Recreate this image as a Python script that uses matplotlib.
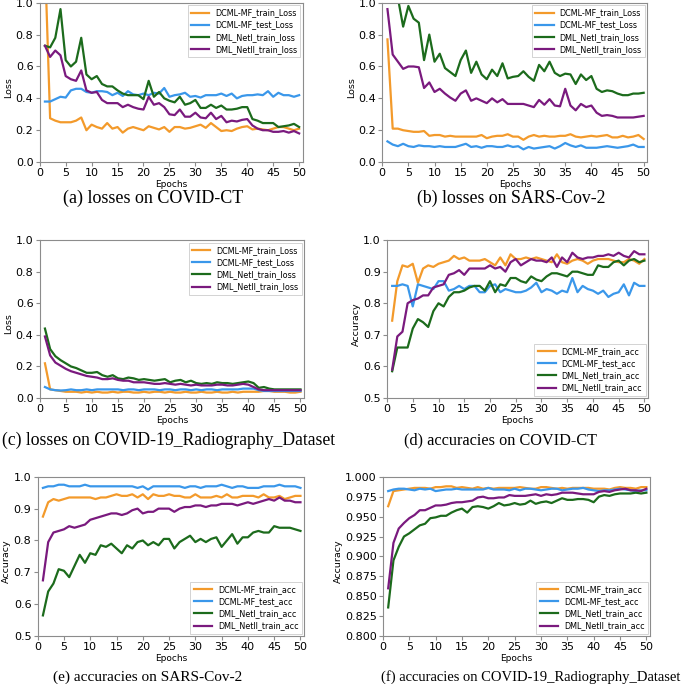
import numpy as np
import matplotlib
matplotlib.use('Agg')
import matplotlib.pyplot as plt

# Epoch axis shared by all panels
epochs = list(range(1, 51))

# Series names
loss_names = ['DCML-MF_train_Loss', 'DCML-MF_test_Loss', 'DML_NetI_train_loss', 'DML_NetII_train_loss']
acc_names = ['DCML-MF_train_acc', 'DCML-MF_test_acc', 'DML_NetI_train_acc', 'DML_NetII_train_acc']

# (a) losses on COVID-CT
a_mf_train = [1.28, 0.275, 0.26, 0.25, 0.25, 0.25, 0.26, 0.28, 0.20, 0.235,
              0.22, 0.21, 0.245, 0.21, 0.22, 0.185, 0.21, 0.22, 0.21, 0.20,
              0.225, 0.215, 0.205, 0.22, 0.19, 0.22, 0.22, 0.21, 0.215, 0.225,
              0.235, 0.215, 0.245, 0.22, 0.195, 0.20, 0.195, 0.21, 0.22, 0.225,
              0.205, 0.21, 0.205, 0.20, 0.21, 0.22, 0.22, 0.21, 0.20, 0.21]
a_mf_test = [0.38, 0.38, 0.395, 0.41, 0.405, 0.45, 0.46, 0.46, 0.44, 0.435,
             0.445, 0.445, 0.44, 0.42, 0.435, 0.415, 0.445, 0.425, 0.42, 0.43,
             0.42, 0.435, 0.43, 0.465, 0.41, 0.42, 0.425, 0.435, 0.41, 0.415,
             0.405, 0.42, 0.42, 0.42, 0.43, 0.415, 0.43, 0.40, 0.415, 0.42,
             0.42, 0.425, 0.42, 0.445, 0.41, 0.435, 0.42, 0.42, 0.41, 0.42]
a_net1 = [0.73, 0.72, 0.78, 0.96, 0.64, 0.60, 0.63, 0.78, 0.55, 0.52,
          0.54, 0.49, 0.475, 0.475, 0.45, 0.43, 0.42, 0.42, 0.42, 0.395,
          0.51, 0.41, 0.44, 0.40, 0.385, 0.375, 0.41, 0.36, 0.37, 0.39,
          0.34, 0.34, 0.36, 0.34, 0.355, 0.33, 0.33, 0.335, 0.345, 0.345,
          0.27, 0.26, 0.245, 0.245, 0.245, 0.22, 0.225, 0.23, 0.24, 0.22]
a_net2 = [0.73, 0.66, 0.70, 0.67, 0.54, 0.52, 0.51, 0.575, 0.45, 0.435,
          0.44, 0.39, 0.37, 0.37, 0.37, 0.345, 0.36, 0.345, 0.335, 0.33,
          0.41, 0.36, 0.37, 0.345, 0.30, 0.295, 0.33, 0.285, 0.285, 0.31,
          0.28, 0.275, 0.31, 0.27, 0.29, 0.25, 0.26, 0.255, 0.265, 0.27,
          0.23, 0.21, 0.20, 0.20, 0.19, 0.19, 0.195, 0.185, 0.195, 0.18]

# (b) losses on SARS-Cov-2
b_mf_train = [0.77, 0.21, 0.21, 0.20, 0.195, 0.19, 0.19, 0.195, 0.165, 0.17,
              0.17, 0.16, 0.165, 0.16, 0.16, 0.16, 0.16, 0.16, 0.17, 0.15,
              0.16, 0.165, 0.165, 0.175, 0.16, 0.16, 0.14, 0.16, 0.17, 0.16,
              0.165, 0.16, 0.16, 0.165, 0.165, 0.175, 0.16, 0.155, 0.16, 0.165,
              0.16, 0.165, 0.17, 0.155, 0.155, 0.165, 0.155, 0.16, 0.17, 0.145]
b_mf_test = [0.13, 0.11, 0.10, 0.115, 0.10, 0.095, 0.105, 0.10, 0.10, 0.095,
             0.10, 0.095, 0.095, 0.095, 0.105, 0.115, 0.095, 0.10, 0.09, 0.10,
             0.10, 0.095, 0.095, 0.105, 0.095, 0.10, 0.08, 0.095, 0.085, 0.09,
             0.095, 0.10, 0.085, 0.10, 0.12, 0.105, 0.095, 0.105, 0.09, 0.09,
             0.09, 0.095, 0.10, 0.095, 0.09, 0.095, 0.10, 0.11, 0.095, 0.095]
b_net1 = [1.25, 1.12, 1.03, 0.85, 0.98, 0.90, 0.875, 0.64, 0.80, 0.63,
          0.68, 0.59, 0.565, 0.54, 0.64, 0.70, 0.56, 0.63, 0.55, 0.52,
          0.58, 0.54, 0.62, 0.525, 0.535, 0.54, 0.57, 0.535, 0.51, 0.61,
          0.57, 0.63, 0.56, 0.54, 0.555, 0.55, 0.49, 0.55, 0.515, 0.54,
          0.46, 0.44, 0.45, 0.445, 0.43, 0.42, 0.42, 0.43, 0.43, 0.435]
b_net2 = [0.96, 0.675, 0.63, 0.585, 0.60, 0.60, 0.595, 0.465, 0.50, 0.44,
          0.46, 0.43, 0.405, 0.385, 0.43, 0.45, 0.385, 0.40, 0.385, 0.37,
          0.40, 0.375, 0.395, 0.365, 0.365, 0.365, 0.365, 0.355, 0.345, 0.39,
          0.36, 0.395, 0.355, 0.35, 0.46, 0.355, 0.325, 0.365, 0.345, 0.355,
          0.31, 0.29, 0.295, 0.29, 0.28, 0.28, 0.28, 0.28, 0.285, 0.29]

# (c) losses on COVID-19_Radiography_Dataset
c_mf_train = [0.22, 0.055, 0.05, 0.045, 0.04, 0.04, 0.04, 0.035, 0.04, 0.035,
              0.04, 0.035, 0.035, 0.04, 0.035, 0.04, 0.04, 0.035, 0.035, 0.04,
              0.035, 0.04, 0.04, 0.035, 0.04, 0.035, 0.035, 0.04, 0.035, 0.035,
              0.04, 0.035, 0.035, 0.04, 0.035, 0.035, 0.04, 0.035, 0.04, 0.04,
              0.04, 0.04, 0.045, 0.045, 0.04, 0.04, 0.04, 0.035, 0.035, 0.04]
c_mf_test = [0.07, 0.055, 0.05, 0.048, 0.05, 0.055, 0.05, 0.05, 0.055, 0.05,
             0.055, 0.055, 0.055, 0.055, 0.055, 0.05, 0.055, 0.055, 0.05, 0.055,
             0.055, 0.055, 0.05, 0.055, 0.055, 0.05, 0.055, 0.055, 0.05, 0.055,
             0.05, 0.055, 0.055, 0.05, 0.055, 0.055, 0.055, 0.055, 0.06, 0.06,
             0.06, 0.05, 0.045, 0.045, 0.045, 0.045, 0.045, 0.045, 0.045, 0.045]
c_net1 = [0.44, 0.31, 0.265, 0.24, 0.22, 0.20, 0.19, 0.175, 0.16, 0.16,
          0.165, 0.145, 0.135, 0.145, 0.125, 0.12, 0.13, 0.125, 0.115, 0.12,
          0.115, 0.11, 0.115, 0.12, 0.10, 0.11, 0.115, 0.10, 0.11, 0.095,
          0.09, 0.095, 0.09, 0.10, 0.095, 0.095, 0.09, 0.095, 0.10, 0.105,
          0.095, 0.065, 0.07, 0.06, 0.055, 0.055, 0.055, 0.055, 0.055, 0.055]
c_net2 = [0.39, 0.27, 0.225, 0.205, 0.185, 0.17, 0.16, 0.15, 0.14, 0.135,
          0.13, 0.12, 0.12, 0.125, 0.115, 0.11, 0.11, 0.10, 0.10, 0.10,
          0.095, 0.09, 0.09, 0.095, 0.09, 0.085, 0.09, 0.085, 0.08, 0.085,
          0.08, 0.08, 0.08, 0.085, 0.085, 0.08, 0.08, 0.085, 0.09, 0.085,
          0.07, 0.055, 0.05, 0.05, 0.05, 0.05, 0.05, 0.05, 0.05, 0.05]

# (d) accuracies on COVID-CT
d_mf_train = [0.745, 0.87, 0.92, 0.915, 0.925, 0.865, 0.91, 0.92, 0.915, 0.925,
              0.93, 0.935, 0.95, 0.94, 0.945, 0.935, 0.935, 0.935, 0.94, 0.93,
              0.92, 0.945, 0.92, 0.955, 0.94, 0.94, 0.945, 0.94, 0.945, 0.94,
              0.935, 0.93, 0.955, 0.93, 0.925, 0.935, 0.94, 0.935, 0.925, 0.935,
              0.94, 0.94, 0.94, 0.935, 0.93, 0.93, 0.94, 0.935, 0.925, 0.94]
d_mf_test = [0.855, 0.855, 0.86, 0.855, 0.79, 0.86, 0.855, 0.85, 0.845, 0.87,
             0.87, 0.84, 0.845, 0.855, 0.845, 0.855, 0.855, 0.835, 0.835, 0.855,
             0.86, 0.835, 0.845, 0.84, 0.835, 0.835, 0.84, 0.85, 0.865, 0.835,
             0.845, 0.84, 0.83, 0.84, 0.835, 0.88, 0.835, 0.855, 0.845, 0.84,
             0.83, 0.84, 0.82, 0.83, 0.835, 0.86, 0.825, 0.865, 0.855, 0.855]
d_net1 = [0.585, 0.66, 0.66, 0.66, 0.72, 0.75, 0.74, 0.725, 0.775, 0.80,
          0.79, 0.82, 0.835, 0.835, 0.84, 0.85, 0.855, 0.855, 0.84, 0.87,
          0.835, 0.86, 0.855, 0.88, 0.88, 0.87, 0.865, 0.885, 0.875, 0.87,
          0.885, 0.895, 0.895, 0.89, 0.885, 0.90, 0.90, 0.895, 0.89, 0.89,
          0.92, 0.915, 0.915, 0.93, 0.935, 0.92, 0.935, 0.94, 0.93, 0.935]
d_net2 = [0.59, 0.695, 0.71, 0.80, 0.81, 0.815, 0.825, 0.825, 0.85, 0.855,
          0.86, 0.89, 0.895, 0.905, 0.89, 0.91, 0.91, 0.91, 0.91, 0.92,
          0.91, 0.915, 0.90, 0.93, 0.94, 0.92, 0.93, 0.94, 0.935, 0.935,
          0.93, 0.945, 0.915, 0.945, 0.93, 0.96, 0.945, 0.94, 0.945, 0.945,
          0.95, 0.95, 0.955, 0.95, 0.96, 0.95, 0.945, 0.965, 0.955, 0.955]

# (e) accuracies on SARS-Cov-2
e_mf_train = [0.875, 0.92, 0.93, 0.925, 0.93, 0.935, 0.935, 0.935, 0.935, 0.935,
              0.93, 0.935, 0.935, 0.94, 0.945, 0.94, 0.94, 0.945, 0.935, 0.945,
              0.93, 0.945, 0.94, 0.94, 0.945, 0.94, 0.94, 0.935, 0.935, 0.945,
              0.935, 0.935, 0.935, 0.94, 0.935, 0.945, 0.935, 0.935, 0.94, 0.94,
              0.94, 0.935, 0.945, 0.935, 0.935, 0.94, 0.93, 0.935, 0.94, 0.94]
e_mf_test = [0.965, 0.97, 0.97, 0.975, 0.975, 0.97, 0.97, 0.97, 0.975, 0.97,
             0.97, 0.97, 0.97, 0.97, 0.97, 0.97, 0.97, 0.97, 0.965, 0.97,
             0.96, 0.97, 0.97, 0.97, 0.97, 0.97, 0.97, 0.965, 0.97, 0.97,
             0.965, 0.97, 0.97, 0.97, 0.975, 0.97, 0.965, 0.97, 0.97, 0.965,
             0.965, 0.965, 0.97, 0.97, 0.97, 0.975, 0.97, 0.97, 0.97, 0.965]
e_net1 = [0.565, 0.64, 0.665, 0.71, 0.705, 0.685, 0.72, 0.755, 0.73, 0.76,
          0.755, 0.785, 0.78, 0.79, 0.775, 0.76, 0.785, 0.775, 0.795, 0.80,
          0.785, 0.795, 0.785, 0.805, 0.805, 0.775, 0.795, 0.805, 0.815, 0.795,
          0.805, 0.795, 0.805, 0.81, 0.78, 0.80, 0.82, 0.79, 0.81, 0.81,
          0.825, 0.83, 0.825, 0.825, 0.845, 0.84, 0.84, 0.84, 0.835, 0.83]
e_net2 = [0.675, 0.795, 0.825, 0.83, 0.835, 0.845, 0.84, 0.845, 0.85, 0.865,
          0.87, 0.875, 0.88, 0.885, 0.885, 0.88, 0.885, 0.895, 0.90, 0.885,
          0.89, 0.89, 0.90, 0.90, 0.90, 0.89, 0.90, 0.905, 0.905, 0.91,
          0.91, 0.905, 0.91, 0.91, 0.915, 0.915, 0.915, 0.91, 0.915, 0.92,
          0.915, 0.92, 0.925, 0.93, 0.925, 0.935, 0.925, 0.925, 0.92, 0.92]

# (f) accuracies on COVID-19_Radiography_Dataset
f_mf_train = [0.963, 0.982, 0.983, 0.984, 0.985, 0.986, 0.986, 0.986, 0.985, 0.987,
              0.987, 0.988, 0.988, 0.986, 0.987, 0.986, 0.985, 0.987, 0.985, 0.986,
              0.985, 0.986, 0.986, 0.986, 0.986, 0.987, 0.986, 0.985, 0.985, 0.987,
              0.987, 0.986, 0.985, 0.986, 0.985, 0.986, 0.986, 0.986, 0.986, 0.985,
              0.985, 0.985, 0.984, 0.986, 0.987, 0.986, 0.986, 0.985, 0.987, 0.987]
f_mf_test = [0.982, 0.984, 0.985, 0.985, 0.984, 0.983, 0.985, 0.984, 0.985, 0.982,
             0.983, 0.984, 0.984, 0.985, 0.984, 0.984, 0.984, 0.984, 0.984, 0.986,
             0.984, 0.984, 0.984, 0.983, 0.985, 0.983, 0.985, 0.985, 0.984, 0.983,
             0.984, 0.985, 0.985, 0.983, 0.984, 0.985, 0.985, 0.986, 0.984, 0.983,
             0.982, 0.983, 0.983, 0.984, 0.985, 0.984, 0.983, 0.982, 0.983, 0.983]
f_net1 = [0.836, 0.895, 0.912, 0.925, 0.929, 0.934, 0.939, 0.941, 0.948, 0.949,
          0.951, 0.951, 0.955, 0.958, 0.960, 0.955, 0.962, 0.963, 0.962, 0.960,
          0.963, 0.967, 0.964, 0.965, 0.967, 0.965, 0.966, 0.970, 0.966, 0.968,
          0.969, 0.967, 0.970, 0.973, 0.971, 0.971, 0.972, 0.972, 0.971, 0.968,
          0.975, 0.977, 0.976, 0.978, 0.979, 0.979, 0.979, 0.980, 0.979, 0.980]
f_net2 = [0.860, 0.917, 0.935, 0.942, 0.948, 0.952, 0.958, 0.958, 0.961, 0.964,
          0.964, 0.965, 0.967, 0.968, 0.968, 0.969, 0.970, 0.974, 0.975, 0.973,
          0.973, 0.974, 0.974, 0.977, 0.976, 0.976, 0.976, 0.977, 0.978, 0.976,
          0.978, 0.977, 0.978, 0.980, 0.980, 0.980, 0.979, 0.978, 0.978, 0.978,
          0.981, 0.982, 0.981, 0.983, 0.984, 0.985, 0.983, 0.983, 0.982, 0.985]

captions = ['(a) losses on COVID-CT', '(b) losses on SARS-Cov-2',
            '(c) losses on COVID-19_Radiography_Dataset', '(d) accuracies on COVID-CT',
            '(e) accuracies on SARS-Cov-2', '(f) accuracies on COVID-19_Radiography_Dataset']

colors = ['#f39a2b', '#3a97ea', '#1c6b1c', '#7a1a7e']
edge_gray = '#8c8c8c'

fig = plt.figure(figsize=(6.85, 6.84), dpi=100)


def panel(rect, series, names, ylim, yticks, ylabel, legend_loc, yfmt, label_x):
    ax = fig.add_axes(rect)
    for vals, name, col in zip(series, names, colors):
        assert len(vals) == 50, name
        ax.plot(epochs, vals, color=col, lw=1.6, label=name)
    ax.set_xlim(0, 50.7)
    ax.set_ylim(*ylim)
    ax.set_xticks(range(0, 51, 5))
    ax.set_yticks(yticks)
    ax.set_yticklabels([yfmt.format(v) for v in yticks])
    ax.tick_params(axis='both', labelsize=8, pad=1.5, length=3, color=edge_gray)
    for s in ax.spines.values():
        s.set_color(edge_gray)
        s.set_linewidth(0.8)
    ax.set_xlabel('Epochs', fontsize=6.5, labelpad=1)
    ax.set_ylabel(ylabel, fontsize=6.8)
    # y label placed by hand, just left of the tick labels
    ax.yaxis.set_label_coords(label_x, 0.47)
    leg = ax.legend(loc=legend_loc, fontsize=5.8, handlelength=2.25, handletextpad=0.75,
                    labelspacing=0.4, borderpad=0.4, borderaxespad=0.3,
                    fancybox=False, framealpha=1)
    leg.get_frame().set_edgecolor('#cccccc')
    leg.get_frame().set_linewidth(0.6)
    return ax


loss_ticks = [0.0, 0.2, 0.4, 0.6, 0.8, 1.0]
acc_ticks = [0.5, 0.6, 0.7, 0.8, 0.9, 1.0]
fine_ticks = [0.8 + 0.025 * i for i in range(9)]

panel([0.058, 0.763, 0.384, 0.233], [a_mf_train, a_mf_test, a_net1, a_net2], loss_names,
      (0, 1), loss_ticks, 'Loss', 'upper right', '{:.1f}', -0.10)
panel([0.558, 0.763, 0.387, 0.233], [b_mf_train, b_mf_test, b_net1, b_net2], loss_names,
      (0, 1), loss_ticks, 'Loss', 'upper right', '{:.1f}', -0.098)
panel([0.058, 0.418, 0.386, 0.231], [c_mf_train, c_mf_test, c_net1, c_net2], loss_names,
      (0, 1), loss_ticks, 'Loss', 'upper right', '{:.1f}', -0.10)
panel([0.565, 0.418, 0.381, 0.231], [d_mf_train, d_mf_test, d_net1, d_net2], acc_names,
      (0.5, 1), acc_ticks, 'Accuracy', 'lower right', '{:.1f}', -0.10)
panel([0.055, 0.070, 0.389, 0.233], [e_mf_train, e_mf_test, e_net1, e_net2], acc_names,
      (0.5, 1), acc_ticks, 'Accuracy', 'lower right', '{:.1f}', -0.10)
panel([0.559, 0.070, 0.390, 0.233], [f_mf_train, f_mf_test, f_net1, f_net2], acc_names,
      (0.8, 1), fine_ticks, 'Accuracy', 'lower right', '{:.3f}', -0.148)

# Sub-figure captions below each panel (sizes follow the widths in the source)
cap_xy = [(153, 198), (511, 198), (169, 440), (501, 440), (148, 677), (531, 677)]
cap_size = [13, 12.8, 12.7, 11.7, 11.0, 10.5]
for (px, py), text, fs in zip(cap_xy, captions, cap_size):
    fig.text(px / 685, 1 - py / 684, text, ha='center', va='center',
             fontsize=fs, family='Liberation Serif')

fig.savefig('out.png', dpi=100)
plt.close(fig)
